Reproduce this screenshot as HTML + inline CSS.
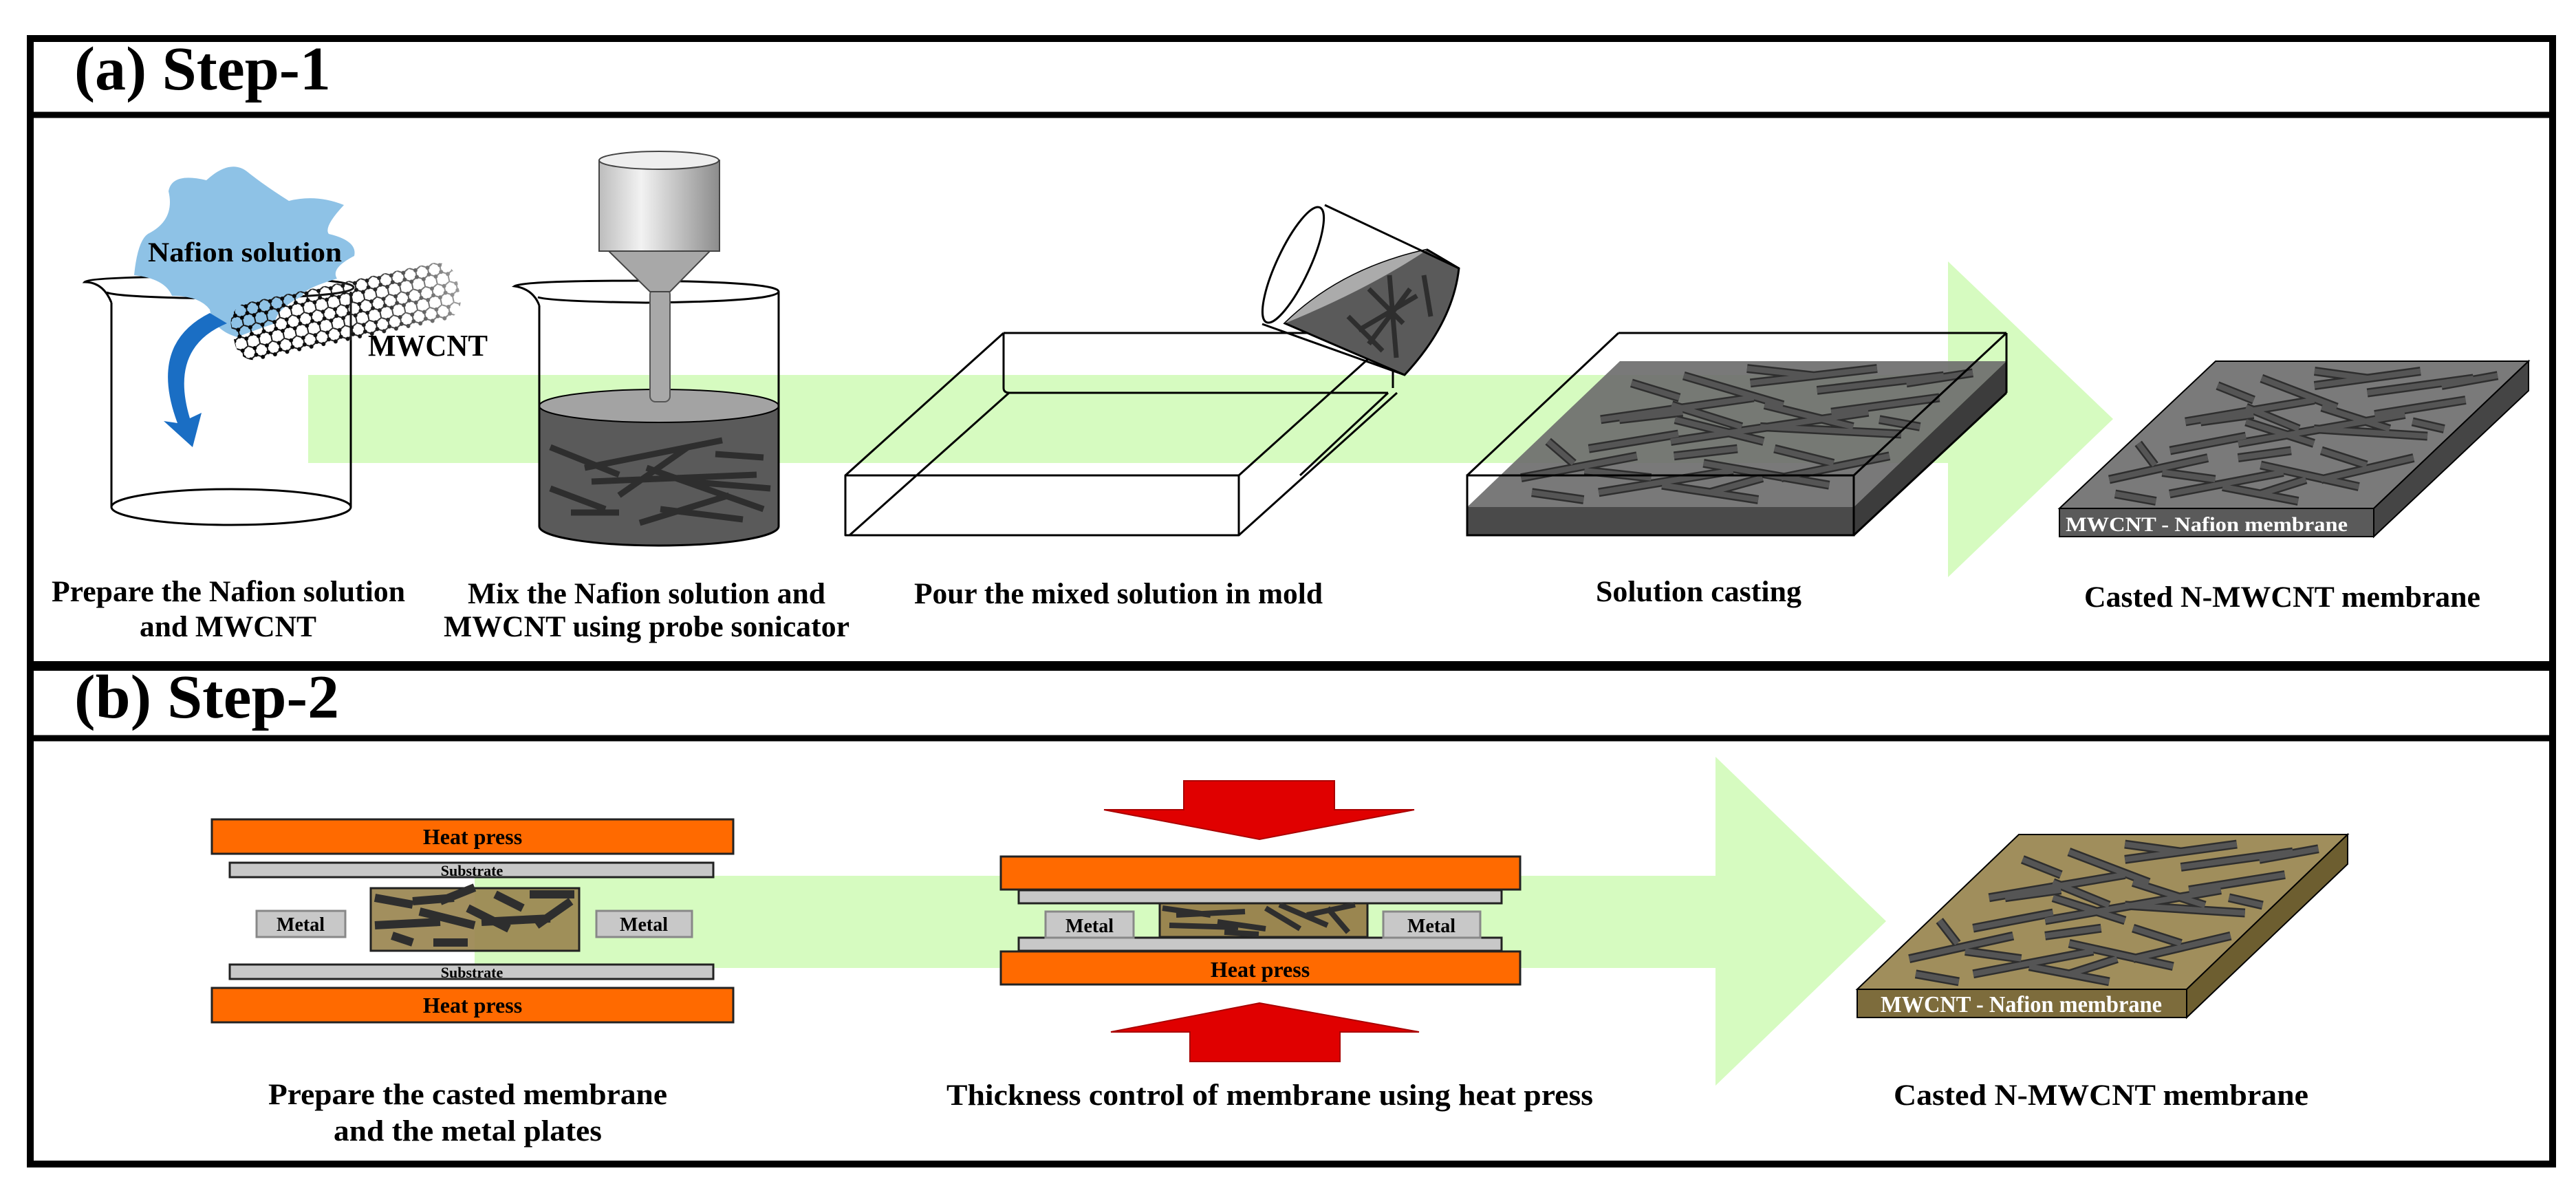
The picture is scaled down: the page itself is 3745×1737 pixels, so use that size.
<!DOCTYPE html>
<html><head><meta charset="utf-8"><style>
html,body{margin:0;padding:0;background:#fff;}
svg{display:block;}
text{font-family:"Liberation Serif",serif;font-weight:bold;fill:#000;}
</style></head><body>
<svg width="3745" height="1737" viewBox="0 0 3745 1737" xmlns="http://www.w3.org/2000/svg">
<defs>
<pattern id="hex" width="18" height="31" patternUnits="userSpaceOnUse">
<path d="M0 0 L9 5 L9 15 L0 20 M9 15 L18 20 M9 5 L18 0 M0 20 L0 31 M18 20 L18 31" stroke="#111" stroke-width="2" fill="none"/>
<circle cx="9" cy="5" r="3" fill="#000"/><circle cx="9" cy="15" r="3" fill="#000"/><circle cx="0" cy="20" r="3" fill="#000"/><circle cx="18" cy="20" r="3" fill="#000"/>
</pattern>
<linearGradient id="cnfade" x1="0" x2="1" y1="0" y2="0">
<stop offset="0" stop-color="#fff" stop-opacity="0"/><stop offset="0.6" stop-color="#fff" stop-opacity="0.1"/><stop offset="1" stop-color="#fff" stop-opacity="0.6"/>
</linearGradient>
<linearGradient id="cyl" x1="0" x2="1" y1="0" y2="0">
<stop offset="0" stop-color="#bdbdbd"/><stop offset="0.35" stop-color="#f2f2f2"/><stop offset="1" stop-color="#8c8c8c"/>
</linearGradient>
<g id="cnts" fill="none" stroke-linecap="butt">
<path stroke="#2e2e2e" stroke-width="13" vector-effect="non-scaling-stroke" d="M0.05 0.2 L0.3 0.35 M0.1 0.6 L0.45 0.75 M0.2 0.9 L0.55 0.7 M0.3 0.1 L0.6 0.25 M0.35 0.45 L0.8 0.65 M0.4 0.85 L0.7 0.95 M0.5 0.3 L0.9 0.15 M0.55 0.55 L0.95 0.5 M0.6 0.8 L0.9 0.9 M0.15 0.4 L0.35 0.5 M0.65 0.4 L0.85 0.3 M0.25 0.7 L0.5 0.55 M0.7 0.65 L0.95 0.75 M0.45 0.15 L0.75 0.05 M0.08 0.85 L0.25 0.75 M0.75 0.2 L0.98 0.35 M0.3 0.6 L0.6 0.45 M0.5 0.7 L0.8 0.55 M0.12 0.1 L0.28 0.05 M0.82 0.85 L0.97 0.92 M0.02 0.45 L0.15 0.3 M0.4 0.35 L0.55 0.4 M0.6 0.1 L0.7 0.2 M0.2 0.25 L0.4 0.2 M0.85 0.6 L0.98 0.55 M0.35 0.95 L0.55 0.9 M0.15 0.6 L0.3 0.65"/>
<path stroke="#555" stroke-width="8" vector-effect="non-scaling-stroke" d="M0.05 0.2 L0.3 0.35 M0.1 0.6 L0.45 0.75 M0.2 0.9 L0.55 0.7 M0.3 0.1 L0.6 0.25 M0.35 0.45 L0.8 0.65 M0.4 0.85 L0.7 0.95 M0.5 0.3 L0.9 0.15 M0.55 0.55 L0.95 0.5 M0.6 0.8 L0.9 0.9 M0.15 0.4 L0.35 0.5 M0.65 0.4 L0.85 0.3 M0.25 0.7 L0.5 0.55 M0.7 0.65 L0.95 0.75 M0.45 0.15 L0.75 0.05 M0.08 0.85 L0.25 0.75 M0.75 0.2 L0.98 0.35 M0.3 0.6 L0.6 0.45 M0.5 0.7 L0.8 0.55 M0.12 0.1 L0.28 0.05 M0.82 0.85 L0.97 0.92 M0.02 0.45 L0.15 0.3 M0.4 0.35 L0.55 0.4 M0.6 0.1 L0.7 0.2 M0.2 0.25 L0.4 0.2 M0.85 0.6 L0.98 0.55 M0.35 0.95 L0.55 0.9 M0.15 0.6 L0.3 0.65"/>
</g>
</defs>

<g fill="none" stroke="#000">
<rect x="44" y="56" width="3667" height="910" stroke-width="10"/>
<line x1="44" y1="167" x2="3711" y2="167" stroke-width="9"/>
<rect x="44" y="970" width="3667" height="722" stroke-width="10"/>
<line x1="44" y1="1073" x2="3711" y2="1073" stroke-width="9"/>
</g>
<text x="108" y="130" font-size="90" textLength="373" lengthAdjust="spacingAndGlyphs">(a)  Step-1</text>
<text x="108" y="1043" font-size="90" textLength="385" lengthAdjust="spacingAndGlyphs">(b)  Step-2</text>

<rect x="448" y="545" width="2386" height="128" fill="#d6fbc0"/>
<polygon points="2832,380 3072,609 2832,839" fill="#d6fbc0"/>

<g fill="none" stroke="#000" stroke-width="3">
<path d="M162 440 Q150 410 123 410 Q130 402 318 402 Q514 404 514 418 Q510 432 318 434 Q170 432 155 425"/>
<line x1="162" y1="440" x2="162" y2="737"/>
<line x1="510" y1="424" x2="510" y2="737"/>
<ellipse cx="336" cy="737" rx="174" ry="26" fill="#fff"/>
</g>
<path d="M245 278 Q250 250 300 262 Q335 230 360 250 Q385 270 420 292 Q460 282 500 298 Q470 330 478 340 Q520 350 515 372 Q480 390 490 405 Q440 420 440 430 Q400 450 400 470 Q370 480 345 490 Q310 480 305 450 Q290 430 250 430 Q240 405 195 400 Q200 350 215 340 Q255 320 245 278 Z" fill="#8ec2e6"/>
<text x="215" y="380" font-size="40" textLength="282" lengthAdjust="spacingAndGlyphs">Nafion solution</text>
<path d="M305 455 Q215 500 258 615 L238 612 L280 650 L293 600 L276 608 Q245 505 330 470 Z" fill="#1a6ec4"/>
<g transform="translate(330,446) rotate(-12)">
<rect x="0" y="0" width="335" height="85" rx="30" fill="url(#hex)"/>
<rect x="0" y="0" width="335" height="85" rx="30" fill="url(#cnfade)"/>
</g>
<text x="535" y="517" font-size="44" textLength="174" lengthAdjust="spacingAndGlyphs">MWCNT</text>

<path d="M784 590 L784 765 A174 28 0 0 0 1132 765 L1132 590 Z" fill="#5a5a5a"/>
<ellipse cx="958" cy="590" rx="174" ry="24" fill="#a3a3a3" stroke="#000" stroke-width="2"/>
<g stroke="#2e2e2e" stroke-width="9" fill="none">
<path d="M800 650 L900 690 M850 680 L1050 640 M860 700 L1100 690 M900 720 L1000 650 M940 680 L1110 740 M800 710 L880 740 M830 745 L900 745 M930 760 L1060 720 M1000 700 L1120 710 M960 740 L1080 755 M1040 660 L1110 665"/>
</g>
<g fill="none" stroke="#000" stroke-width="3">
<path d="M784 444 Q775 420 748 416 Q760 408 939 408 Q1132 410 1132 424 Q1128 438 939 440 Q800 438 782 432"/>
<line x1="784" y1="444" x2="784" y2="765"/>
<line x1="1132" y1="424" x2="1132" y2="765"/>
<path d="M784 765 A174 28 0 0 0 1132 765"/>
</g>
<rect x="945" y="420" width="29" height="164" rx="8" fill="#a8a8a8" stroke="#555" stroke-width="2"/>
<polygon points="885,365 1032,365 974,424 945,424" fill="#a8a8a8" stroke="#444" stroke-width="2"/>
<rect x="871" y="233" width="175" height="132" fill="url(#cyl)" stroke="#444" stroke-width="2"/>
<ellipse cx="958" cy="233" rx="87" ry="13" fill="#eee" stroke="#444" stroke-width="2"/>

<g fill="none" stroke="#000" stroke-width="3" stroke-linejoin="round">
<rect x="1229" y="691" width="572" height="87"/>
<line x1="1459" y1="484" x2="2031" y2="484"/>
<line x1="1229" y1="691" x2="1459" y2="484"/>
<line x1="1801" y1="691" x2="2031" y2="484"/>
<line x1="1801" y1="778" x2="2031" y2="571"/>
<line x1="1459" y1="484" x2="1459" y2="564"/>
<path d="M1459 564 Q1459 571 1468 571 L2018 571"/>
<line x1="2025" y1="484" x2="2025" y2="564"/>
<line x1="1467" y1="571" x2="1235" y2="778"/>
<line x1="2018" y1="571" x2="1890" y2="691"/>
</g>
<path d="M1868 470 Q1950 390 2075 363 L2121 390 Q2112 470 2042 545 Z" fill="#5a5a5a" stroke="#000" stroke-width="3"/>
<path d="M1868 470 Q1950 390 2075 363 Q1990 420 1868 470 Z" fill="#ababab"/>
<g stroke="#2e2e2e" stroke-width="7" fill="none"><path d="M1960 460 L2010 510 M1990 420 L2040 470 M2020 400 L2030 520 M2050 420 L1990 500 M1975 480 L2060 430 M2070 400 L2080 460"/></g>
<g fill="none" stroke="#000" stroke-width="3">
<line x1="1926" y1="298" x2="2121" y2="390"/>
<line x1="1835" y1="471" x2="2042" y2="545"/>
<ellipse cx="1880" cy="385" rx="24" ry="92" transform="rotate(25 1880 385)" fill="#fff"/>
</g>

<polygon points="2133,737 2695,737 2917,525 2355,525" fill="#6e6e6e" fill-opacity="0.92"/>
<rect x="2133" y="737" width="562" height="41" fill="#4a4a4a"/>
<polygon points="2695,737 2917,525 2917,571 2695,778" fill="#3c3c3c"/>
<use href="#cnts" transform="matrix(540,0,222,-212,2140,737)"/>
<g fill="none" stroke="#000" stroke-width="3">
<rect x="2133" y="691" width="562" height="87"/>
<line x1="2353" y1="484" x2="2917" y2="484"/>
<line x1="2133" y1="691" x2="2353" y2="484"/>
<line x1="2695" y1="691" x2="2917" y2="484"/>
<line x1="2695" y1="778" x2="2917" y2="571"/>
<line x1="2917" y1="484" x2="2917" y2="571"/>
</g>

<polygon points="2994,739 3451,739 3676,525 3221,525" fill="#7a7a7a" stroke="#000" stroke-width="2"/>
<use href="#cnts" transform="matrix(440,0,222,-210,3000,739)"/>
<rect x="2994" y="739" width="457" height="41" fill="#5a5a5a" stroke="#000" stroke-width="2"/>
<polygon points="3451,739 3676,525 3676,568 3451,780" fill="#454545" stroke="#000" stroke-width="2"/>
<text x="3003" y="772" font-size="30" style="fill:#fff" textLength="410" lengthAdjust="spacingAndGlyphs">MWCNT - Nafion membrane</text>

<g font-size="43">
<text x="75" y="874" textLength="514" lengthAdjust="spacingAndGlyphs">Prepare the Nafion solution</text>
<text x="203" y="925" textLength="257" lengthAdjust="spacingAndGlyphs">and MWCNT</text>
<text x="680" y="877" textLength="520" lengthAdjust="spacingAndGlyphs">Mix the Nafion solution and</text>
<text x="645" y="925" textLength="590" lengthAdjust="spacingAndGlyphs">MWCNT using probe sonicator</text>
<text x="1329" y="877" textLength="594" lengthAdjust="spacingAndGlyphs">Pour the mixed solution in mold</text>
<text x="2320" y="874" textLength="299" lengthAdjust="spacingAndGlyphs">Solution casting</text>
<text x="3030" y="882" textLength="576" lengthAdjust="spacingAndGlyphs">Casted N-MWCNT membrane</text>
</g>

<rect x="690" y="1273" width="1806" height="134" fill="#d6fbc0"/>
<polygon points="2494,1100 2742,1339 2494,1578" fill="#d6fbc0"/>

<g stroke="#222" stroke-width="3">
<rect x="308" y="1191" width="758" height="50" fill="#ff6a00"/>
<rect x="334" y="1254" width="703" height="21" fill="#c8c8c8"/>
<rect x="539" y="1291" width="303" height="91" fill="#9a8650" fill-opacity="0.92"/>
<rect x="334" y="1402" width="703" height="21" fill="#c8c8c8"/>
<rect x="308" y="1436" width="758" height="50" fill="#ff6a00"/>
</g>
<g stroke="#888" stroke-width="3" fill="#c8c8c8">
<rect x="373" y="1324" width="129" height="38"/>
<rect x="867" y="1324" width="139" height="38"/>
</g>
<g stroke="#2e2e2e" stroke-width="12" fill="none"><path d="M545 1305 L600 1315 M600 1310 L660 1305 M545 1345 L640 1340 M610 1325 L690 1345 M640 1310 L690 1290 M680 1320 L740 1350 M700 1340 L800 1335 M720 1300 L760 1320 M770 1300 L835 1300 M780 1345 L830 1310 M570 1360 L600 1370 M630 1370 L680 1370"/></g>
<g font-size="32" text-anchor="middle">
<text x="687" y="1227">Heat press</text>
<text x="687" y="1472">Heat press</text>
</g>
<g font-size="22" text-anchor="middle">
<text x="686" y="1273">Substrate</text>
<text x="686" y="1421">Substrate</text>
</g>
<g font-size="28" text-anchor="middle">
<text x="437" y="1353">Metal</text>
<text x="936" y="1353">Metal</text>
</g>

<polygon points="1721,1135 1940,1135 1940,1177 2056,1177 1831,1220 1605,1177 1721,1177" fill="#e00000" stroke="#a00" stroke-width="2"/>
<polygon points="1831,1458 2063,1500 1948,1500 1948,1543 1730,1543 1730,1500 1615,1500" fill="#e00000" stroke="#a00" stroke-width="2"/>
<g stroke="#222" stroke-width="3">
<rect x="1455" y="1245" width="755" height="48" fill="#ff6a00"/>
<rect x="1481" y="1294" width="702" height="19" fill="#c8c8c8"/>
<rect x="1686" y="1313" width="302" height="49" fill="#9a8650"/>
<rect x="1481" y="1363" width="702" height="19" fill="#c8c8c8"/>
<rect x="1455" y="1383" width="755" height="48" fill="#ff6a00"/>
</g>
<g stroke="#888" stroke-width="3" fill="#c8c8c8">
<rect x="1520" y="1325" width="128" height="38"/>
<rect x="2011" y="1325" width="141" height="38"/>
</g>
<g stroke="#2e2e2e" stroke-width="8" fill="none"><path d="M1690 1320 L1760 1330 M1710 1330 L1810 1325 M1700 1345 L1800 1348 M1770 1340 L1840 1350 M1840 1320 L1890 1350 M1860 1315 L1930 1345 M1900 1330 L1970 1315 M1930 1320 L1960 1355 M1780 1355 L1830 1358"/></g>
<text x="1832" y="1420" font-size="32" text-anchor="middle">Heat press</text>
<g font-size="28" text-anchor="middle">
<text x="1584" y="1355">Metal</text>
<text x="2081" y="1355">Metal</text>
</g>

<polygon points="2700,1438 3179,1438 3413,1213 2935,1213" fill="#a08e5c" stroke="#000" stroke-width="2"/>
<use href="#cnts" transform="matrix(465,0,232,-222,2706,1438)"/>
<rect x="2700" y="1438" width="479" height="41" fill="#7d6c3c" stroke="#000" stroke-width="2"/>
<polygon points="3179,1438 3413,1213 3413,1256 3179,1479" fill="#6d5e30" stroke="#000" stroke-width="2"/>
<text x="2734" y="1471" font-size="34" style="fill:#fff" textLength="409" lengthAdjust="spacingAndGlyphs">MWCNT - Nafion membrane</text>

<g font-size="43">
<text x="390" y="1605" textLength="580" lengthAdjust="spacingAndGlyphs">Prepare the casted membrane</text>
<text x="485" y="1658" textLength="390" lengthAdjust="spacingAndGlyphs">and the metal plates</text>
<text x="1376" y="1606" textLength="940" lengthAdjust="spacingAndGlyphs">Thickness control of membrane using heat press</text>
<text x="2753" y="1606" textLength="603" lengthAdjust="spacingAndGlyphs">Casted N-MWCNT membrane</text>
</g>
</svg>
</body></html>
